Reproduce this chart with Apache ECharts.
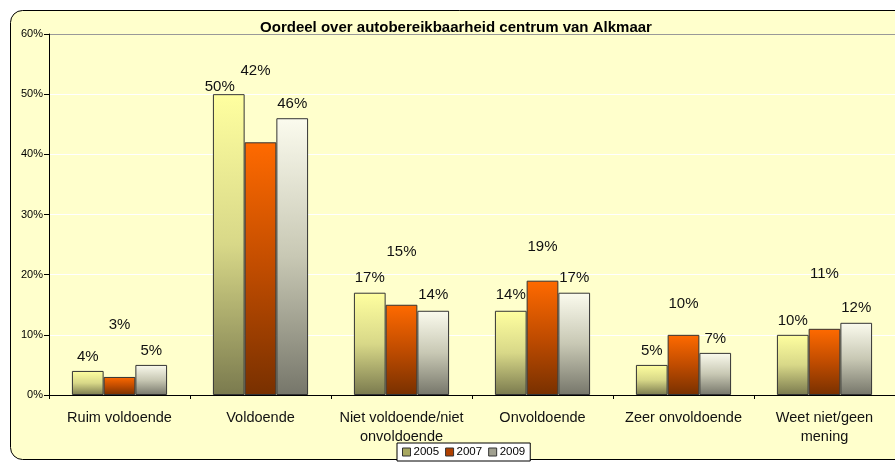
<!DOCTYPE html>
<html>
<head>
<meta charset="utf-8">
<script src="https://cdn.jsdelivr.net/npm/echarts@6/dist/echarts.min.js"></script>
<style>html,body{margin:0;padding:0;background:#fff;}#c{width:895px;height:462px;}</style>
</head>
<body>
<div id="c"></div>
<script>
const categories = ['Ruim voldoende', 'Voldoende', 'Niet voldoende/niet\nonvoldoende', 'Onvoldoende', 'Zeer onvoldoende', 'Weet niet/geen\nmening'];
const years = ['2005', '2007', '2009'];
const values2005 = [4, 50, 17, 14, 5, 10];
const values2007 = [3, 42, 15, 19, 10, 11];
const values2009 = [5, 46, 14, 17, 7, 12];
const yTicks = [0, 10, 20, 30, 40, 50, 60];

// label lift above bar top (pixels, style only)
const lift2005 = [7, 0, 7, 8, 7, 6];
const lift2007 = [45, 64, 45, 26, 23, 47];
const lift2009 = [7, 7, 8, 7, 7, 7];
const labelDx2005 = [0, -9, 0, 0, 0, 0];
const labelDx2007 = [0, -5, 0, 0, 0, 0];

const FONT = 'Liberation Sans, Arial, sans-serif';

function grad(top, mid, bottom) {
  return new echarts.graphic.LinearGradient(0, 0, 0, 1, [
    {offset: 0, color: top}, {offset: 0.5, color: mid}, {offset: 1, color: bottom}
  ]);
}
const fills = [
  grad('#ffffa0', '#d8d888', '#7a7a4e'),
  grad('#ff6a00', '#c04c00', '#783000'),
  grad('#fbfbee', '#c8c8b4', '#76766a')
];
const legendFills = ['#a8a860', '#b04000', '#a0a090'];

function makeSeries(name, vals, lifts, dxs, idx) {
  return {
    name: name,
    type: 'bar',
    barGap: '0%',
    barCategoryGap: '32.5%',
    itemStyle: {color: fills[idx], borderColor: '#333', borderWidth: 1},
    data: vals.map((v, i) => ({
      value: v,
      label: {distance: lifts[i], offset: [dxs ? dxs[i] : 0, 0]}
    })),
    label: {
      show: true, position: 'top', formatter: '{c}%',
      fontFamily: FONT, fontSize: 15, color: '#111'
    }
  };
}

const chart = echarts.init(document.getElementById('c'));
chart.setOption({
  animation: false,
  backgroundColor: '#ffffff',
  graphic: [{
    type: 'rect', z: -10, silent: true,
    shape: {x: 10.5, y: 10.5, width: 950, height: 449, r: 12},
    style: {fill: '#ffffcc', stroke: '#000', lineWidth: 1}
  }],
  title: {
    text: 'Oordeel over autobereikbaarheid centrum van Alkmaar',
    left: 451, top: 15, textAlign: 'center',
    textStyle: {fontFamily: FONT, fontSize: 15, fontWeight: 'bold', color: '#000'}
  },
  legend: {
    data: years.map((y, i) => ({name: y, itemStyle: {color: legendFills[i], borderColor: '#333', borderWidth: 1}})),
    left: 397, top: 443,
    itemWidth: 8, itemHeight: 8, itemGap: 6, icon: 'rect',
    padding: [3, 5, 3, 5],
    borderColor: '#000', borderWidth: 1, backgroundColor: '#ffffff',
    textStyle: {fontFamily: FONT, fontSize: 11.5, color: '#000', padding: [0, 0, 0, -2]}
  },
  grid: {left: 49, top: 34, width: 851, height: 361},
  xAxis: {
    type: 'category', data: categories,
    axisLine: {lineStyle: {color: '#000', width: 1}},
    axisTick: {show: true, length: 4, alignWithLabel: false, lineStyle: {color: '#000'}},
    axisLabel: {interval: 0, margin: 13, fontFamily: FONT, fontSize: 14.5, color: '#111', lineHeight: 19}
  },
  yAxis: {
    type: 'value', min: 0, max: 60, interval: 10,
    axisLine: {show: true, lineStyle: {color: '#000', width: 1}},
    axisTick: {show: true, length: 5, lineStyle: {color: '#000'}},
    axisLabel: {
      margin: 6, fontFamily: FONT, fontSize: 11, color: '#000',
      formatter: v => (yTicks.indexOf(v) >= 0 ? v + '%' : '')
    },
    splitLine: {show: true, lineStyle: {color: ['#ffffff', '#ffffff', '#ffffff', '#ffffff', '#ffffff', '#ffffff', '#999999'], width: 1}}
  },
  series: [
    makeSeries(years[0], values2005, lift2005, labelDx2005, 0),
    makeSeries(years[1], values2007, lift2007, labelDx2007, 1),
    makeSeries(years[2], values2009, lift2009, null, 2)
  ]
});
</script>
</body>
</html>
